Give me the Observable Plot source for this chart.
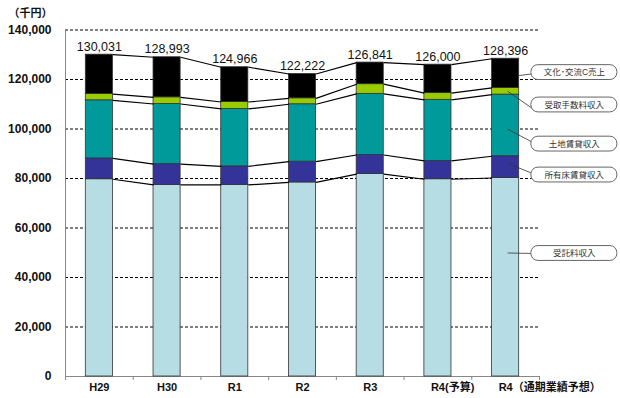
<!DOCTYPE html>
<html><head><meta charset="utf-8">
<script src="https://cdn.jsdelivr.net/npm/d3@7"></script>
<script src="https://cdn.jsdelivr.net/npm/@observablehq/plot@0.6"></script>
<style>body{margin:0;background:#fff}</style>
</head><body><div id="chart"></div>
<script>
const categories = ["H29", "H30", "R1", "R2", "R3", "R4(予算)", "R4（通期業績予想）"];
const seriesNames = ["受託料収入", "所有床賃貸収入", "土地賃貸収入", "受取手数料収入", "文化･交流C売上"];
const jutakuryo = [79700, 77400, 77400, 78400, 81800, 79700, 80200];
const shoyuyuka = [8400, 8400, 7500, 8400, 7700, 7400, 8800];
const tochi = [23500, 24300, 23200, 23200, 24700, 24700, 24900];
const tesuryo = [2500, 2700, 2800, 2400, 3900, 2700, 2700];
const bunka = [15931, 16193, 14066, 9822, 8741, 11500, 11796];
const totals = [130031, 128993, 124966, 122222, 126841, 126000, 128396];
const yTicks = [0, 20000, 40000, 60000, 80000, 100000, 120000, 140000];

const colors = ["#b6dde3", "#333399", "#009a9a", "#99cc00", "#000000"];
const series = [jutakuryo, shoyuyuka, tochi, tesuryo, bunka];

// stacked segments
const segs = [];
const tops = categories.map(() => []);
categories.forEach((c, i) => {
  let cum = 0;
  series.forEach((s, k) => {
    segs.push({i, k, name: seriesNames[k], y1: cum, y2: cum + s[i]});
    cum += s[i];
    tops[i].push(cum);
  });
});
const hw = 0.2;
const links = [];
for (let k = 0; k < series.length; k++) {
  for (let i = 0; i < categories.length - 1; i++) {
    links.push({x1: i + hw, x2: i + 1 - hw, y1: tops[i][k], y2: tops[i + 1][k]});
  }
}
const last = categories.length - 1;
const mid = k => (tops[last][k] - series[k][last] / 2);
// callout layout (label centre y, leader start)
const callouts = [
  {k: 4, y: 122800, sx: last + hw, sy: 121600, ey: 122300},
  {k: 3, y: 109700, sx: last + 0.03, sy: mid(3), ey: 108200},
  {k: 2, y: 93900, sx: last + 0.03, sy: mid(2) - 1500, ey: 94600},
  {k: 1, y: 81400, sx: last + 0.03, sy: mid(1) + 1500, ey: 82000},
  {k: 0, y: 49700, sx: last + 0.03, sy: 49900, ey: 49700}
].map(d => ({...d, name: seriesNames[d.k]}));
const boxX1 = 6.38, boxX2 = 7.65;

const isSuffixed = s => /[（(]/.test(s);

const chart = Plot.plot({
  width: 620,
  height: 398,
  marginLeft: 65,
  marginRight: 81,
  marginTop: 29.5,
  marginBottom: 22,
  style: {fontFamily: "'Liberation Sans', Arial, 'Noto Sans CJK JP', sans-serif", background: "#fff"},
  x: {type: "linear", domain: [-0.5, categories.length - 0.5]},
  y: {domain: [0, 140000]},
  marks: [
    Plot.ruleY(yTicks.filter(t => t > 0), {stroke: "#000", strokeWidth: 1, strokeDasharray: "3,2"}),
    Plot.ruleY([0], {stroke: "#888"}),
    Plot.ruleX([-0.5], {stroke: "#888"}),
    Plot.axisY({ticks: yTicks, tickFormat: d3.format(","), tickSize: 0, tickPadding: 14, fontSize: 12, fontWeight: "bold", fill: "#111", label: null}),
    Plot.axisX({ticks: d3.range(-0.5, categories.length, 1), tickSize: 4, tickFormat: () => "", stroke: "#888", label: null}),
    Plot.rect(segs, {x1: d => d.i - hw, x2: d => d.i + hw, y1: "y1", y2: "y2", fill: d => colors[d.k], stroke: "#333", strokeWidth: 0.8}),
    Plot.link(links, {x1: "x1", x2: "x2", y1: "y1", y2: "y2", stroke: "#000", strokeWidth: 1.2}),
    Plot.text(totals, {x: (d, i) => i, y: d => d, text: d => d3.format(",")(d), dy: -4, lineAnchor: "bottom", fontSize: 12.5, fill: "#111"}),
    Plot.text(categories.map((c, i) => ({c, i})).filter(d => !isSuffixed(d.c)), {x: "i", y: () => 0, text: "c", dy: 11, fontSize: 11, fontWeight: "bold", fill: "#111"}),
    Plot.text(categories.map((c, i) => ({c, i})).filter(d => isSuffixed(d.c)), {x: "i", y: () => 0, text: "c", dy: 11, dx: -7, textAnchor: "start", fontSize: 11, fontWeight: "bold", fill: "#111"}),
    Plot.link(callouts, {x1: "sx", y1: "sy", x2: () => boxX1 + 0.02, y2: "ey", stroke: "#333", strokeWidth: 0.8}),
    Plot.rect(callouts, {x1: () => boxX1, x2: () => boxX2, y1: d => d.y - 3000, y2: d => d.y + 3000, rx: 7, fill: "#fff", stroke: "#666", strokeWidth: 1}),
    Plot.text(callouts, {x: () => (boxX1 + boxX2) / 2, y: "y", text: "name", fontSize: 8.5, fill: "#333"}),
    Plot.text(["（千円）"], {frameAnchor: "top-left", dx: -57, dy: -20.5, textAnchor: "start", fontSize: 11, fontWeight: "bold", fill: "#111"})
  ]
});
document.getElementById("chart").appendChild(chart);
</script>
</body></html>
